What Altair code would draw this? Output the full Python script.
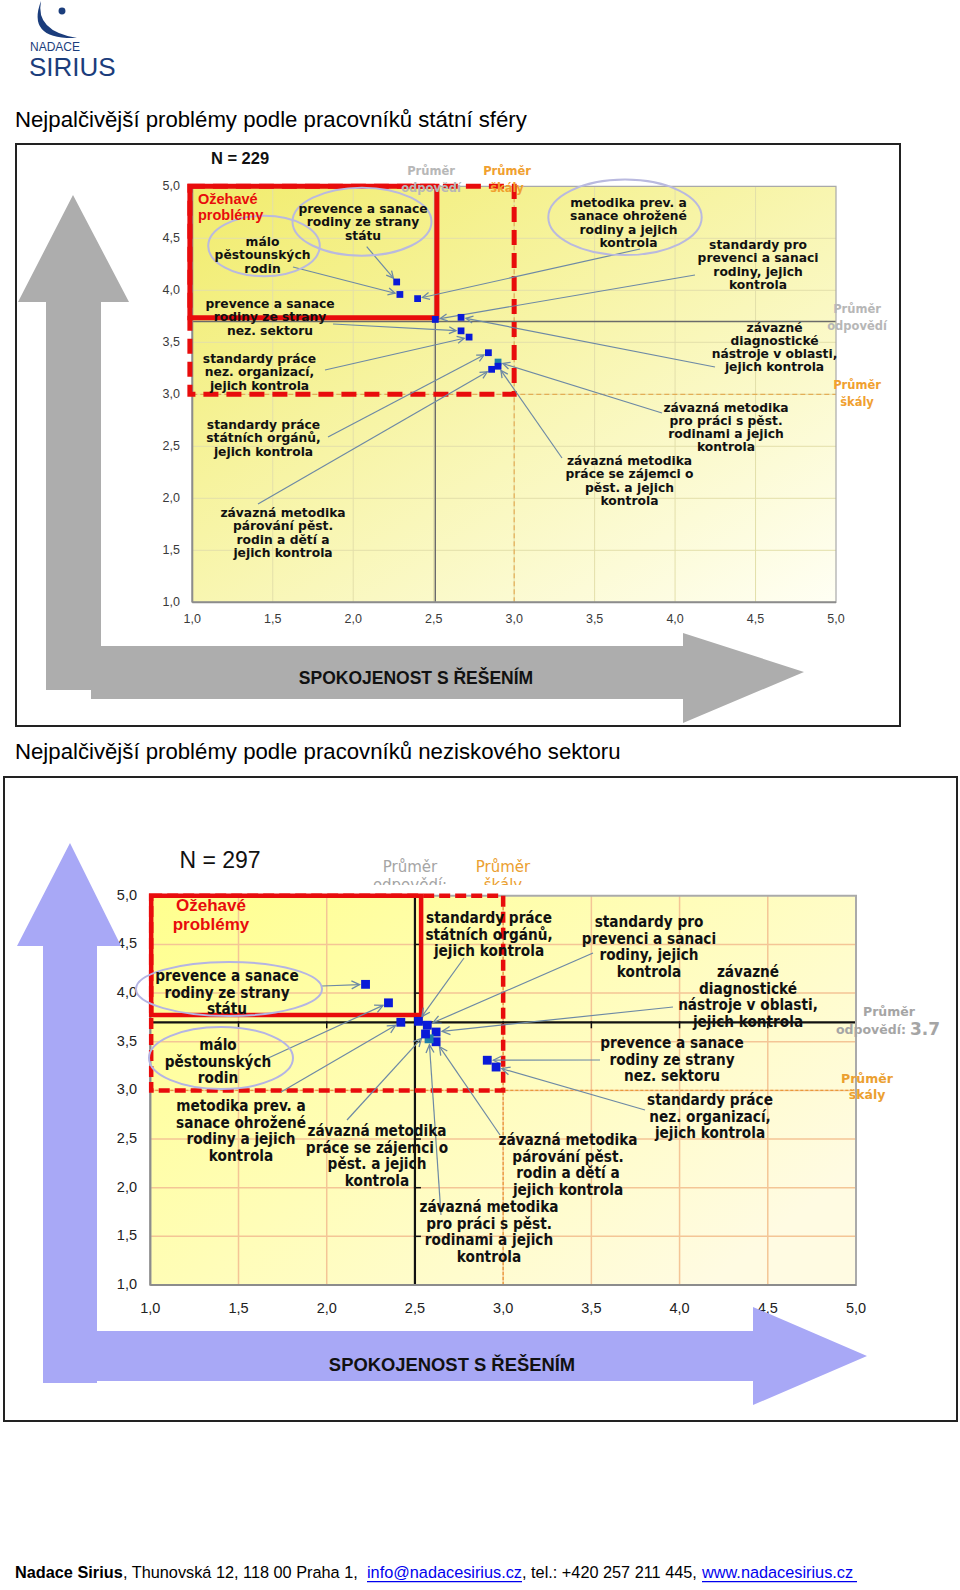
import math
import altair as alt
import pandas as pd

# ---------------------------------------------------------------- data
PROBLEMS = [
    "prevence a sanace rodiny ze strany státu",
    "málo pěstounských rodin",
    "metodika prev. a sanace ohrožené rodiny a jejich kontrola",
    "standardy pro prevenci a sanaci rodiny, jejich kontrola",
    "závazné diagnostické nástroje v oblasti, jejich kontrola",
    "prevence a sanace rodiny ze strany nez. sektoru",
    "standardy práce nez. organizací, jejich kontrola",
    "standardy práce státních orgánů, jejich kontrola",
    "závazná metodika párování pěst. rodin a dětí a jejich kontrola",
    "závazná metodika pro práci s pěst. rodinami a jejich kontrola",
    "závazná metodika práce se zájemci o pěst. a jejich kontrola",
]
PROBLEM_LINES = [
    ["prevence a sanace", "rodiny ze strany", "státu"],
    ["málo", "pěstounských", "rodin"],
    ["metodika prev. a", "sanace ohrožené", "rodiny a jejich", "kontrola"],
    ["standardy pro", "prevenci a sanaci", "rodiny, jejich", "kontrola"],
    ["závazné", "diagnostické", "nástroje v oblasti,", "jejich kontrola"],
    ["prevence a sanace", "rodiny ze strany", "nez. sektoru"],
    ["standardy práce", "nez. organizací,", "jejich kontrola"],
    ["standardy práce", "státních orgánů,", "jejich kontrola"],
    ["závazná metodika", "párování pěst.", "rodin a dětí a", "jejich kontrola"],
    ["závazná metodika", "pro práci s pěst.", "rodinami a jejich", "kontrola"],
    ["závazná metodika", "práce se zájemci o", "pěst. a jejich", "kontrola"],
]
HIGHLIGHT = "závazná metodika pro práci s pěst. rodinami a jejich kontrola"

STATE_TITLE = "Nejpalčivější problémy podle pracovníků státní sféry"
STATE_N = "N = 229"
STATE_SATISFACTION = [2.27, 2.29, 2.40, 2.51, 2.67, 2.67, 2.72, 2.84, 2.86, 2.90, 2.90]
STATE_IMPORTANCE = [4.08, 3.96, 3.92, 3.72, 3.74, 3.61, 3.55, 3.40, 3.24, 3.31, 3.27]
STATE_AVG = [2.51, 3.70]

NGO_TITLE = "Nejpalčivější problémy podle pracovníků neziskového sektoru"
NGO_N = "N = 297"
NGO_SATISFACTION = [2.22, 2.35, 2.42, 2.57, 2.62, 2.91, 2.96, 2.52, 2.62, 2.58, 2.56]
NGO_IMPORTANCE = [4.09, 3.90, 3.70, 3.67, 3.60, 3.31, 3.24, 3.71, 3.50, 3.53, 3.58]
NGO_AVG = [2.50, 3.70]
NGO_AVG_LABEL = "3.7"

SCALE_MID = 3.0
AXIS_DOMAIN = [1.0, 5.0]
TICK_VALUES = [1.0, 1.5, 2.0, 2.5, 3.0, 3.5, 4.0, 4.5, 5.0]
TICK_LABELS = ["1,0", "1,5", "2,0", "2,5", "3,0", "3,5", "4,0", "4,5", "5,0"]
Y_TITLE = ["Z", "Á", "V", "A", "Ž", "N", "O", "S", "T"]
X_TITLE = "SPOKOJENOST S ŘEŠENÍM"
HOT_LABEL = ["Ožehavé", "problémy"]
AVG_NAME = ["Průměr", "odpovědí"]
MID_NAME = ["Průměr", "škály"]

FOOTER = [
    ("Nadace Sirius", "bold"),
    (", Thunovská 12, 118 00 Praha 1, ", "plain"),
    ("info@nadacesirius.cz", "link"),
    (", tel.: +420 257 211 445, ", "plain"),
    ("www.nadacesirius.cz", "link"),
]

# ---------------------------------------------------------------- layout
ARIAL = "Liberation Sans, Arial, sans-serif"
VERD = "DejaVu Sans, Verdana, sans-serif"
VERD_C = "DejaVu Sans Condensed, DejaVu Sans, sans-serif"

P1 = dict(x0=192.3, x1=836.0, y1=602.3, y5=186.3)
P2 = dict(x0=150.3, x1=856.0, y1=1285.0, y5=895.8)

ST1 = dict(
    bg=["#f1ec6c", "#fffff4"], bg_end=(1, 1),
    grid="#e3dfaa", grid_w=1,
    border="#a9a9a9", border_w=1.2, axis="#8c8c8c", axis_w=2,
    mid="#e3a040", mid_dash=[5, 3], mid_w=1,
    avg="#6b6b6b", avg_w=1.4,
    red="#e80c0c", red_w=5, red_dash=[15, 8],
    hot=(0.985, 2.52, 3.735, 5.0), watch=(0.985, 3.0, 3.0, 5.0),
    arrow="#6d89a5", gap=5, head="M -7 -3.5 L 0 0 L -7 3.5",
    pt=46, blue="#0a1ad8", teal="#1d80a8",
    xlab_y=619, ylab_x=180, tick_font=12.5, tick_color="#3a3a3a",
    label_font=VERD, label_size=12.3, label_lh=13.3,
    label_at=[(363, 209), (262.5, 242), (628.5, 203), (758, 245), (774.5, 327.5),
              (270, 304), (259.5, 359), (263.5, 425), (283, 513), (726, 407.5),
              (629.5, 461)],
    arrow_from=[(366.7, 246.7), (293, 267), (640, 249), (695, 275), (715, 367),
                (333, 324), (325, 370), (328, 437), (258, 504), (662, 413),
                (562, 458)],
    avg_ticks=False,
)
ST2 = dict(
    bg=["#ffff8e", "#fffbe2"], bg_end=(1, 0.7),
    grid="#f4c596", grid_w=1.5,
    border="#aaaaaa", border_w=2, axis="#8c8c8c", axis_w=2,
    mid="#ea9a3a", mid_dash=[3, 2], mid_w=1.3,
    avg="#111111", avg_w=2.2,
    red="#e80c0c", red_w=4.5, red_dash=[11, 5],
    hot=(1.005, 2.535, 3.775, 5.0), watch=(1.005, 3.0, 3.0, 5.0),
    arrow="#6d89a5", gap=6, head="M -8 -4 L 0 0 L -8 4",
    pt=78, blue="#0a1ad8", teal="#1d80a8",
    xlab_y=1309, ylab_x=137, tick_font=14.5, tick_color="#222222",
    label_font=VERD_C, label_size=15.2, label_lh=16.6,
    label_at=[(227, 976), (218, 1045), (241, 1106), (649, 922), (748, 972),
              (672, 1043), (710, 1100), (489, 918), (568, 1140), (489, 1207),
              (377, 1131)],
    arrow_from=[(322, 986), (264, 1060), (281, 1092), (593, 953), (673, 1007),
                (600, 1060), (645, 1110), (464, 958), (500, 1135), (441, 1215),
                (347, 1120)],
    avg_ticks=True,
)

ONE = pd.DataFrame({"k": [0]})


def to_px(P, s, m):
    lo, hi = AXIS_DOMAIN
    return (P["x0"] + (s - lo) / (hi - lo) * (P["x1"] - P["x0"]),
            P["y1"] - (m - lo) / (hi - lo) * (P["y1"] - P["y5"]))


def to_data(P, px, py):
    lo, hi = AXIS_DOMAIN
    return (lo + (px - P["x0"]) / (P["x1"] - P["x0"]) * (hi - lo),
            lo + (P["y1"] - py) / (P["y1"] - P["y5"]) * (hi - lo))


def build_plot(P, sat, imp, avg, st):
    lo, hi = AXIS_DOMAIN
    sx = alt.Scale(domain=AXIS_DOMAIN, range=[P["x0"], P["x1"]], nice=False, zero=False)
    sy = alt.Scale(domain=AXIS_DOMAIN, range=[P["y1"], P["y5"]], nice=False, zero=False)

    def X(f):
        return alt.X(f, scale=sx, axis=None)

    def Y(f):
        return alt.Y(f, scale=sy, axis=None)

    frame = pd.DataFrame({"a": [lo], "b": [hi]})
    ticks = pd.DataFrame({"v": TICK_VALUES, "lab": TICK_LABELS, "lo": lo, "hi": hi})
    inner = ticks[(ticks.v > lo) & (ticks.v < hi)]
    layers = []
    grad = alt.Gradient(
        gradient="linear",
        stops=[alt.GradientStop(color=st["bg"][0], offset=0),
               alt.GradientStop(color=st["bg"][1], offset=1)],
        x1=0, y1=0, x2=st["bg_end"][0], y2=st["bg_end"][1])
    layers.append(alt.Chart(frame).mark_rect(color=grad).encode(
        x=X("a:Q"), x2="b:Q", y=Y("a:Q"), y2="b:Q"))
    layers.append(alt.Chart(inner).mark_rule(color=st["grid"], strokeWidth=st["grid_w"]).encode(
        x=X("v:Q"), y=Y("lo:Q"), y2="hi:Q"))
    layers.append(alt.Chart(inner).mark_rule(color=st["grid"], strokeWidth=st["grid_w"]).encode(
        y=Y("v:Q"), x=X("lo:Q"), x2="hi:Q"))
    mid = pd.DataFrame({"v": [SCALE_MID], "lo": [lo], "hi": [hi]})
    layers.append(alt.Chart(mid).mark_rule(color=st["mid"], strokeWidth=st["mid_w"],
                                           strokeDash=st["mid_dash"]).encode(
        x=X("v:Q"), y=Y("lo:Q"), y2="hi:Q"))
    layers.append(alt.Chart(mid).mark_rule(color=st["mid"], strokeWidth=st["mid_w"],
                                           strokeDash=st["mid_dash"]).encode(
        y=Y("v:Q"), x=X("lo:Q"), x2="hi:Q"))
    av = pd.DataFrame({"s": [avg[0]], "m": [avg[1]], "lo": [lo], "hi": [hi]})
    layers.append(alt.Chart(av).mark_rule(color=st["avg"], strokeWidth=st["avg_w"]).encode(
        x=X("s:Q"), y=Y("lo:Q"), y2="hi:Q"))
    layers.append(alt.Chart(av).mark_rule(color=st["avg"], strokeWidth=st["avg_w"]).encode(
        y=Y("m:Q"), x=X("lo:Q"), x2="hi:Q"))
    if st["avg_ticks"]:
        tk = pd.DataFrame({"v": TICK_VALUES, "s": avg[0], "m": avg[1]})
        layers.append(alt.Chart(tk).mark_point(shape="M 0 -1 L 0 6", size=4, filled=False,
                                               color=st["avg"], strokeWidth=1.5, opacity=1).encode(
            x=X("v:Q"), y=Y("m:Q")))
        layers.append(alt.Chart(tk).mark_point(shape="M -1 0 L 6 0", size=4, filled=False,
                                               color=st["avg"], strokeWidth=1.5, opacity=1).encode(
            x=X("s:Q"), y=Y("v:Q")))
    layers.append(alt.Chart(frame).mark_rect(fillOpacity=0, stroke=st["border"],
                                             strokeWidth=st["border_w"]).encode(
        x=X("a:Q"), x2="b:Q", y=Y("a:Q"), y2="b:Q"))
    layers.append(alt.Chart(frame).mark_rule(color=st["axis"], strokeWidth=st["axis_w"]).encode(
        x=X("a:Q"), y=Y("a:Q"), y2="b:Q"))
    layers.append(alt.Chart(frame).mark_rule(color=st["axis"], strokeWidth=st["axis_w"]).encode(
        y=Y("a:Q"), x=X("a:Q"), x2="b:Q"))
    w = st["watch"]
    wb = pd.DataFrame({"x": [w[0]], "x2": [w[1]], "y": [w[2]], "y2": [w[3]]})
    layers.append(alt.Chart(wb).mark_rect(fillOpacity=0, stroke=st["red"], strokeWidth=st["red_w"],
                                          strokeDash=st["red_dash"]).encode(
        x=X("x:Q"), x2="x2:Q", y=Y("y:Q"), y2="y2:Q"))
    h = st["hot"]
    hb = pd.DataFrame({"x": [h[0]], "x2": [h[1]], "y": [h[2]], "y2": [h[3]]})
    layers.append(alt.Chart(hb).mark_rect(fillOpacity=0, stroke=st["red"],
                                          strokeWidth=st["red_w"]).encode(
        x=X("x:Q"), x2="x2:Q", y=Y("y:Q"), y2="y2:Q"))

    # annotation arrows (start = label anchor, end = next to the point)
    rows = []
    for i, (s, m) in enumerate(zip(sat, imp)):
        fx, fy = st["arrow_from"][i]
        tx, ty = to_px(P, s, m)
        dx, dy = tx - fx, ty - fy
        d = math.hypot(dx, dy) or 1.0
        ex, ey = tx - dx / d * st["gap"], ty - dy / d * st["gap"]
        a0 = to_data(P, fx, fy)
        a1 = to_data(P, ex, ey)
        rows.append(dict(x=a0[0], y=a0[1], x2=a1[0], y2=a1[1],
                         ang=math.degrees(math.atan2(dy, dx)) % 360))
    arr = pd.DataFrame(rows)
    layers.append(alt.Chart(arr).mark_rule(color=st["arrow"], strokeWidth=1.2).encode(
        x=X("x:Q"), y=Y("y:Q"), x2="x2:Q", y2="y2:Q"))
    layers.append(alt.Chart(arr).mark_point(shape=st["head"], size=4, filled=False,
                                            color=st["arrow"], strokeWidth=1.3, opacity=1).encode(
        x=X("x2:Q"), y=Y("y2:Q"), angle=alt.Angle("ang:Q", scale=None)))

    pts = pd.DataFrame({"problem": PROBLEMS, "sat": sat, "imp": imp})
    layers.append(alt.Chart(pts).mark_square(size=st["pt"], opacity=1).encode(
        x=X("sat:Q"), y=Y("imp:Q"),
        color=alt.condition(alt.datum.problem == HIGHLIGHT, alt.value(st["teal"]),
                            alt.value(st["blue"]))))

    layers.append(alt.Chart(ticks).mark_text(font=ARIAL, fontSize=st["tick_font"],
                                             color=st["tick_color"], baseline="middle").encode(
        x=X("v:Q"), y=alt.value(st["xlab_y"]), text="lab:N"))
    layers.append(alt.Chart(ticks).mark_text(font=ARIAL, fontSize=st["tick_font"],
                                             color=st["tick_color"], align="right",
                                             baseline="middle").encode(
        y=Y("v:Q"), x=alt.value(st["ylab_x"]), text="lab:N"))
    return alt.layer(*layers)


def page_text(rows, **mark):
    df = pd.DataFrame(rows, columns=["px", "py", "t"])
    mark.setdefault("baseline", "middle")
    return alt.Chart(df).mark_text(**mark).encode(
        x=alt.X("px:Q", scale=None, axis=None),
        y=alt.Y("py:Q", scale=None, axis=None),
        text="t:N")


def stacked(lines, x, y0, lh):
    return [(x, y0 + i * lh, t) for i, t in enumerate(lines)]


def page_shape(path, color, filled=True, sw=1.0, x=0, y=0):
    return alt.Chart(ONE).mark_point(shape=path, size=4, filled=filled, color=color,
                                     strokeWidth=sw, opacity=1).encode(
        x=alt.value(x), y=alt.value(y))


def page_rect(x, x2, y, y2, **mark):
    return alt.Chart(ONE).mark_rect(**mark).encode(
        x=alt.value(x), x2=alt.value(x2), y=alt.value(y), y2=alt.value(y2))


def ellipse(cx, cy, rx, ry, color, sw):
    path = f"M {-rx} 0 A {rx} {ry} 0 1 0 {rx} 0 A {rx} {ry} 0 1 0 {-rx} 0 Z"
    return page_shape(path, color, filled=False, sw=sw, x=cx, y=cy)


def labels(st):
    rows = []
    for (cx, cy), lines in zip(st["label_at"], PROBLEM_LINES):
        rows += stacked(lines, cx, cy, st["label_lh"])
    return page_text(rows, font=st["label_font"], fontSize=st["label_size"], fontWeight="bold",
                     color="#111111", align="center")


layers = []

# ---- plots
layers.append(build_plot(P1, STATE_SATISFACTION, STATE_IMPORTANCE, STATE_AVG, ST1))
layers.append(build_plot(P2, NGO_SATISFACTION, NGO_IMPORTANCE, NGO_AVG, ST2))

# ---- header
layers.append(page_shape("M 41 1 Q 26 40 77 38 Q 35 31 41 1 Z", "#1b3d7c"))
layers.append(alt.Chart(ONE).mark_point(shape="circle", size=48, filled=True, color="#1b3d7c",
                                        opacity=1).encode(x=alt.value(62), y=alt.value(11)))
layers.append(page_text([(30, 47, "NADACE")], font=ARIAL, fontSize=12, color="#1b3d7c",
                        align="left"))
layers.append(page_text([(29, 68, "SIRIUS")], font=ARIAL, fontSize=26, color="#1b3d7c",
                        align="left"))
layers.append(page_text([(15, 120, STATE_TITLE), (15, 752, NGO_TITLE)], font=ARIAL,
                        fontSize=22.2, color="#000000", align="left"))

# ---- frames
layers.append(page_rect(16, 900, 144, 726, fillOpacity=0, stroke="#222222", strokeWidth=2))
layers.append(page_rect(4, 957, 777, 1421, fillOpacity=0, stroke="#222222", strokeWidth=2))

# ---- plot 1 annotations
layers.append(ellipse(362, 221.7, 69.5, 34, "#b9b9df", 2))
layers.append(ellipse(264, 246, 55.8, 30.3, "#b9b9df", 2))
layers.append(ellipse(625, 217.3, 76.7, 37.8, "#b9b9df", 2))
layers.append(labels(ST1))
layers.append(page_text([(240, 159, STATE_N)], font=ARIAL, fontSize=16.5, fontWeight="bold",
                        color="#111111", align="center"))
layers.append(page_text(stacked(HOT_LABEL, 198, 200, 16), font=ARIAL, fontSize=14.5,
                        fontWeight="bold", color="#e80c0c", align="left"))
layers.append(page_text(stacked(AVG_NAME, 431, 172, 16.5) + stacked(AVG_NAME, 857, 310, 16.5),
                        font=VERD, fontSize=11.5, fontWeight="bold", color="#b7b7b7",
                        align="center"))
layers.append(page_text(stacked(MID_NAME, 507, 172, 16.5) + stacked(MID_NAME, 857, 386, 16.5),
                        font=VERD, fontSize=11.5, fontWeight="bold", color="#f0a030",
                        align="center"))
layers.append(page_text(stacked(Y_TITLE, 73, 365, 20.3), font=ARIAL, fontSize=16.5,
                        color="#1a1a1a", align="center"))

# ---- plot 2 annotations
layers.append(ellipse(229, 989, 93, 27, "#b4b4e4", 2))
layers.append(ellipse(221, 1058, 72, 31, "#b4b4e4", 2))
layers.append(labels(ST2))
layers.append(page_text([(220, 861, NGO_N)], font=ARIAL, fontSize=23, color="#111111",
                        align="center"))
layers.append(page_text(stacked(HOT_LABEL, 211, 906, 19), font=ARIAL, fontSize=17,
                        fontWeight="bold", color="#e80c0c", align="center"))
layers.append(page_text([(410, 867, "Průměr"), (410, 885, "odpovědí:")], font=VERD,
                        fontSize=15, color="#a5a5a5", align="center"))
layers.append(page_text(stacked(MID_NAME, 503, 867, 18), font=VERD, fontSize=15,
                        color="#eba030", align="center"))
layers.append(page_rect(360, 560, 885, 893, color="#ffffff"))
layers.append(page_text([(889, 1012, "Průměr"), (871, 1030, "odpovědí:")], font=VERD,
                        fontSize=12.5, fontWeight="bold", color="#a5a5a5", align="center"))
layers.append(page_text([(925, 1030, NGO_AVG_LABEL)], font=VERD, fontSize=17,
                        fontWeight="bold", color="#a5a5a5", align="center"))
layers.append(page_text(stacked(MID_NAME, 867, 1079, 16), font=VERD, fontSize=12.5,
                        fontWeight="bold", color="#eba030", align="center"))
layers.append(page_text(stacked(Y_TITLE, 70, 1017, 21.4), font=ARIAL, fontSize=17,
                        fontWeight="bold", color="#1a1a1a", align="center"))

# ---- big axis arrows (drawn over tick labels as in the reference)
layers.append(page_shape("M 73 195 L 129 302 L 101 302 L 101 690 L 46 690 L 46 302 L 18 302 Z",
                         "#adadad"))
layers.append(page_shape("M 91 646 L 683 646 L 683 633 L 804 672 L 683 723 L 683 699 L 91 699 Z",
                         "#adadad"))
layers.append(page_text([(416, 679, X_TITLE)], font=ARIAL, fontSize=17.5, fontWeight="bold",
                        color="#111111", align="center"))
layers.append(page_shape("M 70 843 L 121 946 L 97 946 L 97 1383 L 43 1383 L 43 946 L 17 946 Z",
                         "#a8a8f6"))
layers.append(page_shape("M 95 1331 L 753 1331 L 753 1307 L 867 1356 L 753 1405 L 753 1381 L 95 1381 Z",
                         "#a8a8f6"))
layers.append(page_text([(452, 1365, X_TITLE)], font=ARIAL, fontSize=18.4, fontWeight="bold",
                        color="#111111", align="center"))

# ---- footer
FOOT_X = [15, 123, 367, 522, 702]
FOOT_Y = 1573
for (txt, kind), fx in zip(FOOTER, FOOT_X):
    if kind == "bold":
        layers.append(page_text([(fx, FOOT_Y, txt)], font=ARIAL, fontSize=16.3, fontWeight="bold",
                                color="#000000", align="left"))
    elif kind == "link":
        layers.append(page_text([(fx, FOOT_Y, txt)], font=ARIAL, fontSize=16.3, color="#0000ee",
                                align="left"))
    else:
        layers.append(page_text([(fx, FOOT_Y, txt)], font=ARIAL, fontSize=16.3, color="#000000",
                                align="left"))
layers.append(page_rect(367, 522, 1581, 1582.2, color="#0000ee"))
layers.append(page_rect(702, 857, 1581, 1582.2, color="#0000ee"))

chart = alt.layer(*layers).resolve_scale(x="independent", y="independent").properties(
    width=960, height=1590, autosize=alt.AutoSizeParams(type="none"), padding=0,
    background="white").configure_view(strokeWidth=0)

chart.save("out.html", embed_options={"renderer": "svg", "actions": False})
